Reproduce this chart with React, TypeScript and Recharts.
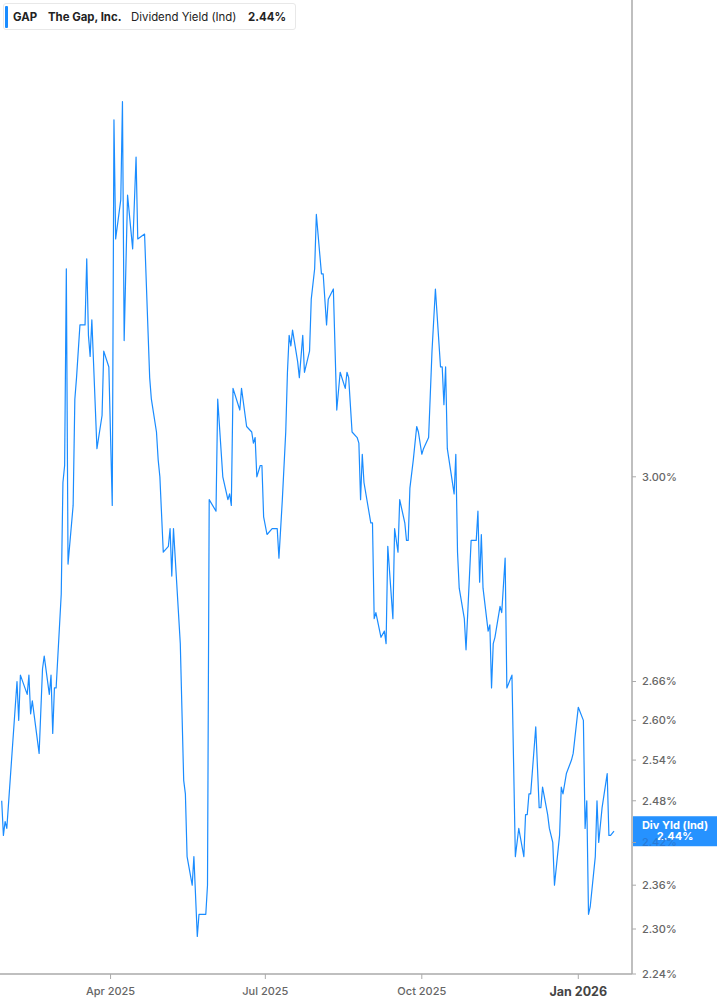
import React from "react";
import { LineChart, Line, XAxis, YAxis, ReferenceLine } from "recharts";

// GAP dividend yield (indicated)
const dates = [
  "2025-01-27", "2025-01-28", "2025-01-29", "2025-01-30",
  "2025-02-05", "2025-02-06", "2025-02-07", "2025-02-11", "2025-02-12", "2025-02-13", "2025-02-14",
  "2025-02-18", "2025-02-20", "2025-02-21", "2025-02-24", "2025-02-25", "2025-02-26", "2025-02-27", "2025-02-28",
  "2025-03-03", "2025-03-04", "2025-03-05", "2025-03-06", "2025-03-07", "2025-03-10", "2025-03-11", "2025-03-12",
  "2025-03-14", "2025-03-17", "2025-03-18", "2025-03-19", "2025-03-20", "2025-03-21", "2025-03-24", "2025-03-27",
  "2025-03-28", "2025-03-31",
  "2025-04-02", "2025-04-03", "2025-04-04", "2025-04-07", "2025-04-08", "2025-04-09", "2025-04-11", "2025-04-14",
  "2025-04-16", "2025-04-17", "2025-04-21", "2025-04-24", "2025-04-25", "2025-04-28", "2025-04-29", "2025-04-30",
  "2025-05-02", "2025-05-05", "2025-05-06", "2025-05-07", "2025-05-08", "2025-05-12", "2025-05-14", "2025-05-15",
  "2025-05-16", "2025-05-19", "2025-05-20", "2025-05-22", "2025-05-23", "2025-05-27", "2025-05-28", "2025-05-29",
  "2025-06-02", "2025-06-03", "2025-06-06", "2025-06-09", "2025-06-10", "2025-06-11", "2025-06-12", "2025-06-16",
  "2025-06-17", "2025-06-20", "2025-06-23", "2025-06-24", "2025-06-25", "2025-06-26", "2025-06-28", "2025-06-29",
  "2025-06-30",
  "2025-07-02", "2025-07-05", "2025-07-08", "2025-07-09", "2025-07-11", "2025-07-13", "2025-07-14", "2025-07-15",
  "2025-07-16", "2025-07-17", "2025-07-20", "2025-07-21", "2025-07-23", "2025-07-24", "2025-07-27", "2025-07-28",
  "2025-07-30", "2025-07-31",
  "2025-08-03", "2025-08-04", "2025-08-06", "2025-08-07", "2025-08-10", "2025-08-12", "2025-08-14", "2025-08-17",
  "2025-08-18", "2025-08-19", "2025-08-21", "2025-08-24", "2025-08-25", "2025-08-26", "2025-08-27", "2025-08-28",
  "2025-09-01", "2025-09-02", "2025-09-03", "2025-09-04", "2025-09-07", "2025-09-09", "2025-09-10", "2025-09-11",
  "2025-09-14", "2025-09-15", "2025-09-17", "2025-09-18", "2025-09-21", "2025-09-22", "2025-09-23", "2025-09-24",
  "2025-09-26", "2025-09-28", "2025-09-29",
  "2025-10-01", "2025-10-02", "2025-10-05", "2025-10-07", "2025-10-09", "2025-10-12", "2025-10-13", "2025-10-14",
  "2025-10-15", "2025-10-16", "2025-10-18", "2025-10-20", "2025-10-21", "2025-10-22", "2025-10-23", "2025-10-26",
  "2025-10-27", "2025-10-30",
  "2025-11-02", "2025-11-03", "2025-11-04", "2025-11-05", "2025-11-06", "2025-11-09", "2025-11-10", "2025-11-11",
  "2025-11-12", "2025-11-13", "2025-11-16", "2025-11-17", "2025-11-19", "2025-11-20", "2025-11-23", "2025-11-25",
  "2025-11-27", "2025-11-30",
  "2025-12-01", "2025-12-02", "2025-12-03", "2025-12-04", "2025-12-07", "2025-12-09", "2025-12-10", "2025-12-11",
  "2025-12-14", "2025-12-15", "2025-12-17", "2025-12-18", "2025-12-21", "2025-12-22", "2025-12-23", "2025-12-25",
  "2025-12-28", "2025-12-29",
  "2026-01-01", "2026-01-04", "2026-01-05", "2026-01-06", "2026-01-07", "2026-01-08", "2026-01-11", "2026-01-12",
  "2026-01-13", "2026-01-15", "2026-01-18", "2026-01-19", "2026-01-20", "2026-01-22",
];

const yields = [
  2.48, 2.43, 2.45, 2.44,
  2.66, 2.6, 2.67, 2.64, 2.67, 2.61, 2.63,
  2.55, 2.68, 2.7, 2.64, 2.67, 2.58, 2.65, 2.65,
  2.8, 2.99, 3.02, 3.39, 2.85, 2.95, 3.14, 3.18,
  3.28, 3.28, 3.41, 3.26, 3.22, 3.29, 3.05, 3.11,
  3.23, 3.2,
  2.95, 3.7, 3.45, 3.53, 3.74, 3.25, 3.54, 3.43,
  3.62, 3.45, 3.46, 3.18, 3.14, 3.08, 3.03, 3.0,
  2.87, 2.88, 2.91, 2.83, 2.91, 2.72, 2.51, 2.49,
  2.4, 2.36, 2.4, 2.29, 2.32, 2.32, 2.36, 2.96,
  2.94, 3.14, 3.0, 2.96, 2.97, 2.95, 3.16, 3.12,
  3.16, 3.09, 3.08, 3.06, 3.07, 3.0, 3.02, 3.02,
  2.93,
  2.9, 2.91, 2.91, 2.86, 2.96, 3.08, 3.19, 3.26,
  3.24, 3.27, 3.21, 3.18, 3.26, 3.19, 3.23, 3.33,
  3.39, 3.5,
  3.38, 3.38, 3.28, 3.33, 3.35, 3.12, 3.19, 3.16,
  3.19, 3.18, 3.08, 3.07, 3.06, 2.96, 3.04, 2.99,
  2.92, 2.92, 2.76, 2.77, 2.73, 2.74, 2.72, 2.88,
  2.76, 2.91, 2.87, 2.96, 2.92, 2.89, 2.89, 2.98,
  3.03, 3.09, 3.08,
  3.04, 3.05, 3.07, 3.23, 3.35, 3.2, 3.2, 3.13,
  3.2, 3.05, 3.01, 2.97, 3.04, 2.87, 2.81, 2.76,
  2.71, 2.89,
  2.89, 2.94, 2.82, 2.9, 2.81, 2.74, 2.75, 2.65,
  2.72, 2.73, 2.78, 2.77, 2.86, 2.65, 2.67, 2.4,
  2.44, 2.4,
  2.46, 2.46, 2.49, 2.49, 2.59, 2.47, 2.47, 2.5,
  2.46, 2.44, 2.42, 2.36, 2.43, 2.5, 2.49, 2.52,
  2.54, 2.55,
  2.62, 2.6, 2.44, 2.48, 2.32, 2.33, 2.4, 2.48,
  2.42, 2.47, 2.52, 2.43, 2.43, 2.436,
];

const xTickDates = ["2025-04-01", "2025-07-01", "2025-10-01", "2026-01-01"];
const xTickLabels = ["Apr 2025", "Jul 2025", "Oct 2025", "Jan 2026"];
const yTicks = [2.24, 2.3, 2.36, 2.42, 2.48, 2.54, 2.6, 2.66, 3.0];

const data = dates.map((d, i) => ({ t: Date.parse(d), v: yields[i] }));
const xTicks = xTickDates.map((d) => Date.parse(d));
const lastValue = yields[yields.length - 1];

const BLUE = "#1a8cff";
const FONT = "Inter, 'Noto Sans', sans-serif";

function XTick({ x, y, payload }: any) {
  const label = xTickLabels[xTicks.indexOf(payload.value)];
  const bold = label.startsWith("Jan");
  return (
    <text
      x={x}
      y={y}
      dy="0.71em"
      textAnchor="middle"
      fontFamily={FONT}
      fontSize={bold ? 12.5 : 11}
      fontWeight={bold ? 700 : 500}
      fill={bold ? "#444" : "#666"}
    >
      {label}
    </text>
  );
}

// the tick that sits under the last-value box shows through it only faintly
function YTick({ x, y, payload }: any) {
  const covered = Math.abs(payload.value - lastValue) < 0.03;
  return (
    <text
      x={x}
      y={y}
      dy="0.355em"
      textAnchor="start"
      fontFamily={FONT}
      fontSize={11}
      fontWeight={500}
      fill={covered ? "#2a7ad6" : "#666"}
    >
      {`${payload.value.toFixed(2)}%`}
    </text>
  );
}

function LastBox({ viewBox }: any) {
  if (!viewBox) return null;
  const x = viewBox.x + viewBox.width;
  const y = viewBox.y;
  return (
    <g>
      <rect x={x + 1} y={y - 15} width={85} height={30} fill={BLUE} fillOpacity={0.95} />
      <text x={x + 43} y={y - 2} textAnchor="middle" fontFamily={FONT} fontSize={11} fontWeight={700} fill="#fff">
        Div Yld (Ind)
      </text>
      <text x={x + 43} y={y + 9} textAnchor="middle" fontFamily={FONT} fontSize={11} fontWeight={700} fill="#fff">
        {lastValue.toFixed(2)}%
      </text>
    </g>
  );
}

export default function App() {
  return (
    <div style={{ position: "absolute", left: 0, top: 0, width: 717, height: 1005, background: "#fff" }}>
      <LineChart width={717} height={1005} data={data} margin={{ top: 0, right: 0, bottom: 0, left: 0 }}>
        <XAxis
          dataKey="t"
          type="number"
          domain={[Date.parse("2025-01-26T00:00:00Z"), Date.parse("2026-02-01T14:00:00Z")]}
          allowDataOverflow
          ticks={xTicks}
          tick={<XTick />}
          tickSize={5}
          tickMargin={8}
          height={31}
          axisLine={{ stroke: "#aaa", strokeWidth: 1.5 }}
          tickLine={{ stroke: "#aaa" }}
        />
        <YAxis
          orientation="right"
          dataKey="v"
          scale="log"
          domain={[2.24, 3.97]}
          allowDataOverflow
          ticks={yTicks}
          width={85}
          tickSize={4}
          tickMargin={6}
          axisLine={{ stroke: "#aaa", strokeWidth: 1.5 }}
          tickLine={{ stroke: "#aaa" }}
          tick={<YTick />}
        />
        <Line
          type="linear"
          dataKey="v"
          stroke={BLUE}
          strokeWidth={1.2}
          strokeLinejoin="round"
          dot={false}
          activeDot={false}
          isAnimationActive={false}
        />
        <ReferenceLine y={lastValue} stroke="none" ifOverflow="visible" label={<LastBox />} />
      </LineChart>

      <div
        style={{
          position: "absolute",
          left: 3,
          top: 3,
          width: 293,
          height: 27,
          boxSizing: "border-box",
          border: "1px solid #e8e8e8",
          borderRadius: 3,
          background: "#fff",
          fontFamily: FONT,
          fontSize: 11.4,
          color: "#222",
          whiteSpace: "nowrap",
        }}
      >
        <div style={{ position: "absolute", left: 1, top: 2, width: 3, height: 22, background: BLUE, borderRadius: 1 }} />
        <span style={{ position: "absolute", left: 9, top: 6, fontWeight: 700 }}>GAP</span>
        <span style={{ position: "absolute", left: 44, top: 6, fontWeight: 700 }}>The Gap, Inc.</span>
        <span style={{ position: "absolute", left: 127, top: 6 }}>Dividend Yield (Ind)</span>
        <span style={{ position: "absolute", left: 244, top: 6, fontWeight: 700 }}>2.44%</span>
      </div>
    </div>
  );
}
